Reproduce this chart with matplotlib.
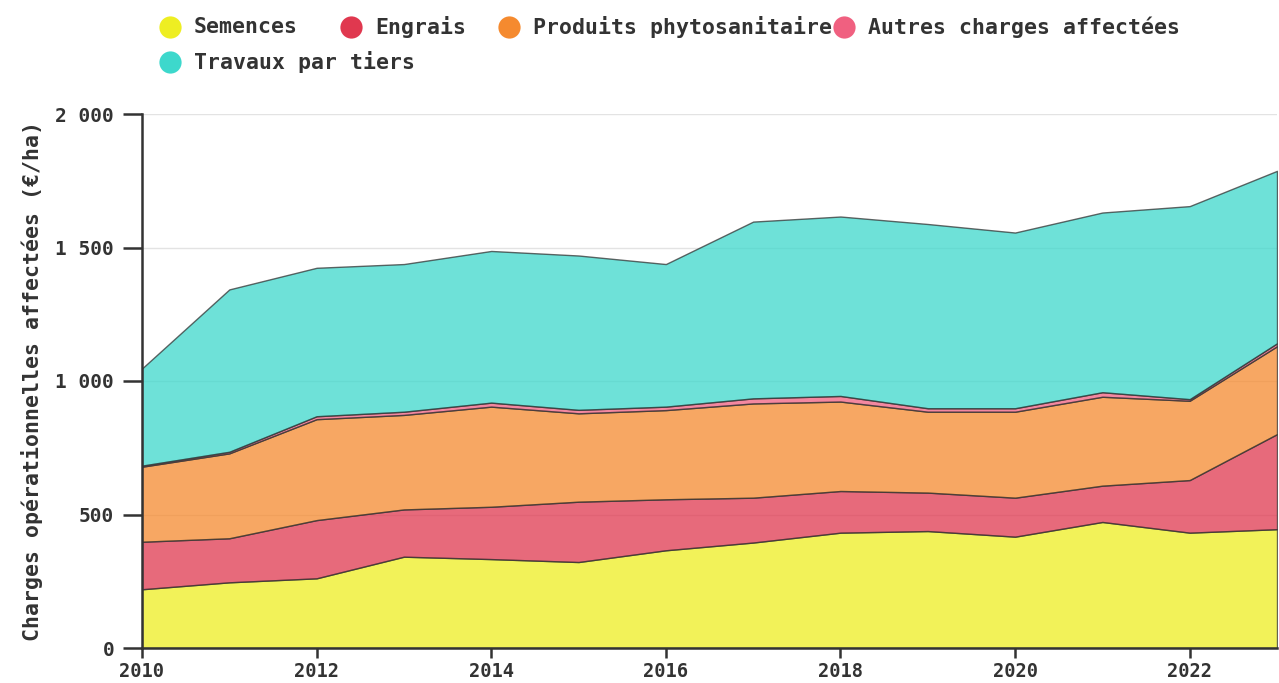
import matplotlib
matplotlib.use("Agg")
import matplotlib.pyplot as plt
from matplotlib.ticker import FuncFormatter

years = [2010, 2011, 2012, 2013, 2014, 2015, 2016, 2017, 2018, 2019, 2020, 2021, 2022, 2023]
semences = [220, 246, 261, 342, 333, 322, 366, 395, 432, 438, 417, 472, 432, 445]
engrais = [178, 165, 218, 177, 196, 226, 191, 168, 156, 144, 146, 136, 197, 356]
phyto = [281, 318, 378, 354, 375, 331, 334, 353, 335, 303, 322, 333, 297, 329]
autres = [4, 6, 11, 12, 15, 13, 13, 19, 21, 13, 13, 17, 6, 11]
travaux = [364, 608, 556, 553, 568, 578, 534, 662, 672, 690, 658, 673, 723, 646]

labels = ["Semences", "Engrais", "Produits phytosanitaire", "Autres charges affectées", "Travaux par tiers"]
colors = ["#eeee22", "#e0384f", "#f58a2f", "#f06080", "#3dd8cc"]

FONT = "DejaVu Sans Mono"
TXT = "#333333"

fig = plt.figure(figsize=(12.79, 6.83), dpi=100)
ax = fig.add_axes([142 / 1279, 35 / 683, 1135 / 1279, 534 / 683])

ax.stackplot(years, semences, engrais, phyto, autres, travaux,
             colors=colors, alpha=0.75, edgecolor="#333333", linewidth=1.0, zorder=2)

ax.set_xlim(2010, 2023)
ax.set_ylim(0, 2000)
ax.set_yticks([0, 500, 1000, 1500, 2000])
ax.set_xticks([2010, 2012, 2014, 2016, 2018, 2020, 2022])
ax.yaxis.set_major_formatter(FuncFormatter(lambda v, p: f"{int(v):,}".replace(",", " ")))
ax.grid(axis="y", color="#e3e3e3", linewidth=1, zorder=0)
ax.set_axisbelow(True)
for s in ["top", "right"]:
    ax.spines[s].set_visible(False)
for s in ["left", "bottom"]:
    ax.spines[s].set_color("#333333")
    ax.spines[s].set_linewidth(1.8)
    ax.spines[s].set_zorder(5)
ax.tick_params(axis="y", length=14, width=1.8, color="#333333", pad=6,
               labelsize=14, labelcolor=TXT)
ax.tick_params(axis="x", length=7, width=1.8, color="#333333", pad=3,
               labelsize=13.5, labelcolor=TXT)
for lab in ax.get_xticklabels() + ax.get_yticklabels():
    lab.set_fontfamily(FONT)
    lab.set_fontweight("bold")
ax.set_ylabel("Charges opérationnelles affectées (€/ha)", fontsize=15.5, family=FONT,
              fontweight="bold", color=TXT, labelpad=9)

# legend drawn in pixel coordinates on an overlay
ov = fig.add_axes([0, 0, 1, 1], zorder=10)
ov.set_xlim(0, 1279)
ov.set_ylim(683, 0)
ov.axis("off")
leg_pos = [(170, 27), (351, 27), (509, 27), (844, 27), (170, 62)]
for (x, y), lab, c in zip(leg_pos, labels, colors):
    ov.plot([x], [y], marker="o", markersize=16, color=c, markeredgewidth=0, linestyle="none")
    ov.text(x + 24, y, lab, fontsize=15.5, family=FONT, fontweight="bold", color=TXT,
            va="center", ha="left")

fig.savefig("out.png", dpi=100)
